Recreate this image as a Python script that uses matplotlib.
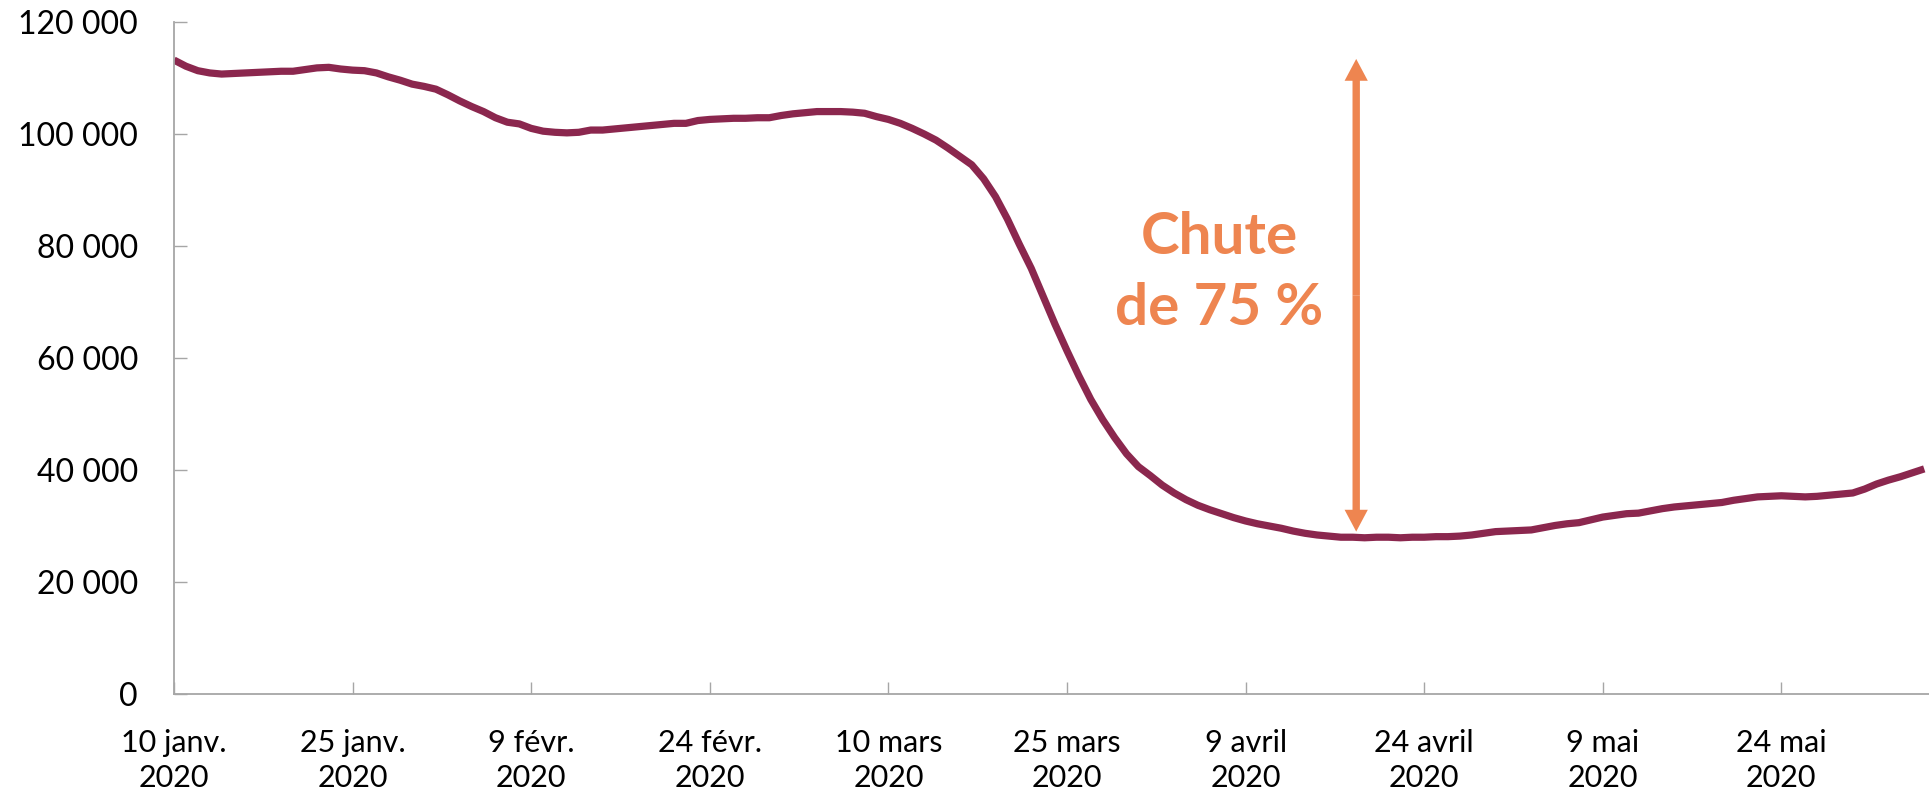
from __future__ import annotations

import matplotlib

matplotlib.use("Agg")

import matplotlib.dates as mdates
import matplotlib.pyplot as plt
import pandas as pd
from matplotlib.ticker import FuncFormatter

# daily values, starting 10 Jan 2020
start_date = "2020-01-10"
values = [
    113200, 112100, 111300, 110900, 110700, 110800, 110900, 111000, 111100, 111200,
    111200, 111500, 111800, 111900, 111600, 111400, 111300, 110900, 110200, 109600,
    108900, 108500, 108000, 107000, 105900, 104900, 104000, 102900, 102100, 101800,
    101000, 100500, 100300, 100200, 100300, 100700, 100700, 100900, 101100, 101300,
    101500, 101700, 101900, 101900, 102400, 102600, 102700, 102800, 102800, 102900,
    102900, 103300, 103600, 103800, 104000, 104000, 104000, 103900, 103700, 103100,
    102600, 101900, 101000, 100000, 98900, 97500, 96000, 94500, 92000, 88800,
    84800, 80300, 76000, 71000, 66000, 61300, 56800, 52600, 49000, 45800,
    42900, 40600, 39000, 37300, 35900, 34700, 33700, 32900, 32200, 31500,
    30900, 30400, 30000, 29600, 29100, 28700, 28400, 28200, 28000, 28000,
    27900, 28000, 28000, 27900, 28000, 28000, 28100, 28100, 28200, 28400,
    28700, 29000, 29100, 29200, 29300, 29700, 30100, 30400, 30600, 31100,
    31600, 31900, 32200, 32300, 32700, 33100, 33400, 33600, 33800, 34000,
    34200, 34600, 34900, 35200, 35300, 35400, 35300, 35200, 35300, 35500,
    35700, 35900, 36600, 37500, 38200, 38800, 39500, 40200,
]

tick_dates = [
    "2020-01-10", "2020-01-25", "2020-02-09", "2020-02-24", "2020-03-10",
    "2020-03-25", "2020-04-09", "2020-04-24", "2020-05-09", "2020-05-24",
]
tick_labels = [
    "10 janv.\n2020", "25 janv.\n2020", "9 févr.\n2020", "24 févr.\n2020",
    "10 mars\n2020", "25 mars\n2020", "9 avril\n2020", "24 avril\n2020",
    "9 mai\n2020", "24 mai\n2020",
]
y_ticks = [0, 20000, 40000, 60000, 80000, 100000, 120000]

drop_date = "2020-04-18 07:00"
drop_top = 113400
drop_bottom = 29000
drop_label = "Chute\nde 75 %"

LINE_COLOR = "#8B274E"
ORANGE = "#EE8550"
AXIS_GRAY = "#A6A6A6"

plt.rcParams["font.family"] = ["Lato", "DejaVu Sans"]

dates = pd.date_range(start_date, periods=len(values), freq="D")
series = pd.Series(values, index=dates)

fig = plt.figure(figsize=(19.29, 7.93), dpi=100)
ax = fig.add_axes([0.0902, 0.1248, 0.9098, 0.8475])

ax.plot(series.index, series.values, color=LINE_COLOR, lw=5.2,
        solid_capstyle="butt", solid_joinstyle="round")

x0 = mdates.date2num(pd.Timestamp(start_date))
ax.set_xlim(x0, x0 + 147.4)
ax.set_ylim(0, 120000)

for side in ("top", "right"):
    ax.spines[side].set_visible(False)
for side in ("left", "bottom"):
    ax.spines[side].set_color(AXIS_GRAY)
    ax.spines[side].set_linewidth(1.3)

ax.set_yticks(y_ticks)
ax.yaxis.set_major_formatter(FuncFormatter(lambda v, _: f"{v:,.0f}".replace(",", " ")))
ax.set_xticks(mdates.date2num(pd.to_datetime(tick_dates)))
ax.set_xticklabels(tick_labels, linespacing=1.32)

ax.tick_params(axis="y", direction="in", length=9, width=1, color=AXIS_GRAY,
               labelsize=23, pad=26)
ax.tick_params(axis="x", direction="in", length=9, width=1, color=AXIS_GRAY,
               labelsize=22, pad=25)

# double-headed arrow showing the drop
xa = mdates.date2num(pd.Timestamp(drop_date))
mid = (drop_top + drop_bottom) / 2
arrow_kw = dict(width=0.62, head_width=1.95, head_length=3900,
                length_includes_head=True, color=ORANGE, lw=0)
ax.arrow(xa, mid, 0, drop_top - mid, **arrow_kw)
ax.arrow(xa, mid, 0, drop_bottom - mid, **arrow_kw)

ax.text(xa - 11.5, 75100, drop_label, color=ORANGE, fontsize=42,
        fontweight="bold", ha="center", va="center", linespacing=1.42)

fig.savefig("out.png", dpi=100)
plt.close(fig)
